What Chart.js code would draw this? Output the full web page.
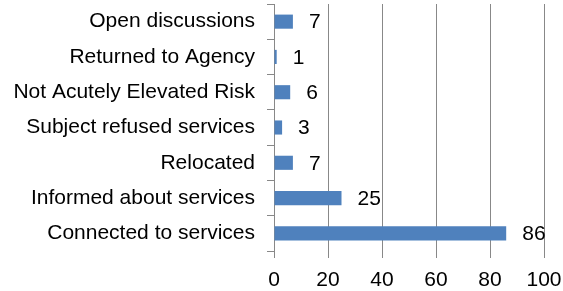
<!DOCTYPE html>
<html>
<head>
<meta charset="utf-8">
<script src="https://cdn.jsdelivr.net/npm/chart.js@4/dist/chart.umd.min.js"></script>
<style>
  html, body { margin: 0; padding: 0; background: #fff; }
  #wrap { width: 563px; height: 291px; }
</style>
</head>
<body>
<div id="wrap"><canvas id="chartBar"></canvas></div>
<script>
// data, top to bottom
var categories = ['Open discussions', 'Returned to Agency', 'Not Acutely Elevated Risk',
    'Subject refused services', 'Relocated', 'Informed about services', 'Connected to services'];
var counts = [7, 1, 6, 3, 7, 25, 86];
var xTicks = [0, 20, 40, 60, 80, 100];

var FONT = { family: "'Liberation Sans', Arial, sans-serif", size: 21 };
var GRID = '#888888';

// value labels to the right of each bar
var valueLabels = {
    id: 'valueLabels',
    afterDatasetsDraw: function (chart) {
        var ctx = chart.ctx;
        var meta = chart.getDatasetMeta(0);
        ctx.save();
        ctx.font = FONT.size + 'px ' + FONT.family;
        ctx.fillStyle = '#000';
        ctx.textAlign = 'left';
        ctx.textBaseline = 'middle';
        meta.data.forEach(function (bar, i) {
            ctx.fillText(String(counts[i]), bar.x + 16, bar.y + 1);
        });
        ctx.restore();
    }
};

var ctx = document.getElementById('chartBar');
var myBarChart = new Chart(ctx, {
    type: 'bar',
    data: {
        labels: categories,
        datasets: [{
            data: counts,
            backgroundColor: '#4f81bd',
            borderWidth: 0,
            barPercentage: 0.4,
            categoryPercentage: 1
        }]
    },
    options: {
        indexAxis: 'y',
        responsive: true,
        maintainAspectRatio: false,
        animation: false,
        layout: { autoPadding: false, padding: { top: 4, right: 19, left: 0, bottom: 0 } },
        plugins: {
            legend: { display: false },
            tooltip: { enabled: false }
        },
        scales: {
            x: {
                min: 0,
                max: 100,
                afterBuildTicks: function (scale) {
                    scale.ticks = xTicks.map(function (v) { return { value: v }; });
                },
                afterFit: function (scale) {
                    scale.height = 40;
                    scale.paddingLeft = 0;
                    scale.paddingRight = 0;
                },
                grid: { color: GRID, lineWidth: 1, tickLength: 7, drawTicks: true },
                border: { display: false },
                ticks: { color: '#000', font: FONT, padding: 10, maxRotation: 0 }
            },
            y: {
                afterFit: function (scale) {
                    scale.width = 274;
                    scale.paddingTop = 0;
                    scale.paddingBottom = 0;
                },
                grid: { drawOnChartArea: false, color: GRID, tickLength: 7, offset: true },
                border: { color: GRID, width: 1 },
                ticks: { color: '#000', font: FONT, padding: 12 }
            }
        }
    },
    plugins: [valueLabels]
});
</script>
</body>
</html>
